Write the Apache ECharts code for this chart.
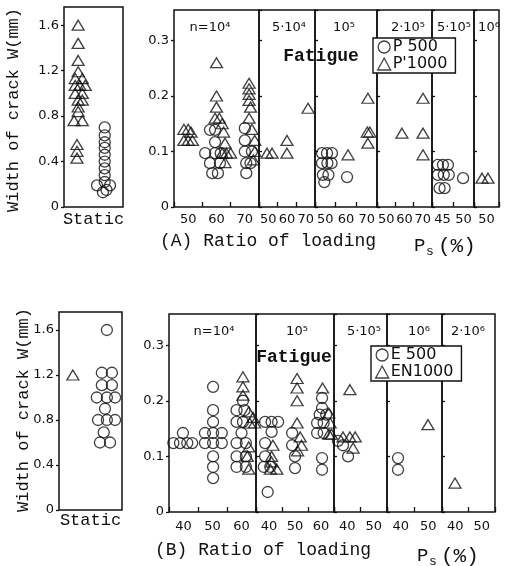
<!DOCTYPE html>
<html>
<head>
<meta charset="utf-8">
<script src="https://cdn.jsdelivr.net/npm/echarts@6/dist/echarts.min.js"></script>
<style>
  html, body { margin: 0; background: #fff; }
  #chart { width: 507px; height: 566px; }
</style>
</head>
<body>
<div id="chart"></div>
<script>
// ---- data ----
// static panels: x = position inside the "Static" column (0..1), y = crack width (mm)
const staticCats = ['Static'];
const aStaticP1000 = [[0.24,1.6],[0.24,1.44],[0.24,1.29],[0.24,1.19],[0.19,1.13],[0.31,1.13],
  [0.19,1.07],[0.27,1.07],[0.36,1.07],[0.19,1.0],[0.31,1.0],[0.24,0.94],[0.31,0.94],[0.24,0.88],
  [0.24,0.84],[0.17,0.76],[0.31,0.76],[0.22,0.55],[0.22,0.49],[0.22,0.43]];
const aStaticP500 = [[0.69,0.70],[0.69,0.63],[0.69,0.57],[0.69,0.52],[0.69,0.46],[0.69,0.40],
  [0.69,0.34],[0.69,0.28],[0.69,0.22],[0.56,0.19],[0.78,0.19],[0.72,0.15],[0.66,0.13]];
const bStaticEN1000 = [[0.22,1.2]];
const bStaticE500 = [[0.76,1.6],[0.68,1.22],[0.84,1.22],[0.68,1.11],[0.84,1.11],[0.6,1.0],
  [0.76,1.0],[0.89,1.0],[0.73,0.9],[0.62,0.8],[0.76,0.8],[0.89,0.8],[0.71,0.69],[0.65,0.6],[0.81,0.6]];

// fatigue panels: x = ratio of loading Ps (%), y = crack width (mm)
const aCats = ['50','60','70'];
const aCats5 = ['45','50'];
const aCats6 = ['50'];
const bCats = ['40','50','60'];
const bCats2 = ['40','50'];

const aN1e4P1000 = [[48.5,0.14],[50,0.14],[51,0.135],[48.5,0.12],[50,0.12],[51.5,0.12],
  [60,0.26],[60,0.2],[60,0.18],[59.5,0.16],[61,0.16],[62,0.15],[62.5,0.135],[63,0.115],
  [62,0.097],[63.5,0.097],[65,0.097],[63,0.08],
  [71.5,0.223],[71.5,0.213],[71.5,0.203],[71.5,0.192],[72,0.18],[71.5,0.16],[72.5,0.14],
  [73.5,0.12],[73.5,0.1],[73,0.085]];
const aN1e4P500 = [[57.7,0.139],[59.5,0.139],[59.5,0.117],[56,0.097],[59.5,0.097],[61.5,0.097],
  [57.7,0.079],[61.2,0.079],[58.5,0.061],[60.5,0.061],
  [70,0.142],[70,0.12],[70,0.1],[72.5,0.1],[70.5,0.079],[72,0.079],[70.5,0.061]];
const aN5e4P1000 = [[49.3,0.097],[52,0.097],[60,0.12],[60,0.097],[71.3,0.178]];
const aN1e5P500 = [[48.4,0.097],[50.8,0.097],[53.2,0.097],[48.4,0.079],[51,0.079],[53,0.079],
  [48.8,0.058],[51.5,0.058],[49.5,0.045],[60.5,0.054]];
const aN1e5P1000 = [[61,0.094],[70.6,0.196],[70.3,0.135],[71.5,0.135],[70.6,0.115]];
const aN2e5P1000 = [[58.6,0.133],[70.1,0.196],[70.1,0.133],[70.1,0.094]];
const aN5e5P500 = [[43.9,0.076],[45.1,0.076],[46.3,0.076],[43.9,0.058],[45.3,0.058],[46.5,0.058],
  [44.3,0.034],[45.5,0.034],[49.9,0.052]];
const aN1e6P1000 = [[48.2,0.052],[50.6,0.052]];

const bN1e4E500 = [[39.8,0.142],[36.5,0.124],[38.8,0.124],[41.3,0.124],[43,0.124],
  [50.2,0.225],[50.2,0.183],[50.2,0.162],[47.4,0.142],[50.2,0.142],[53.2,0.142],[47.4,0.124],
  [50.2,0.124],[53.2,0.124],[50.2,0.1],[50.2,0.081],[50.2,0.061],
  [60.5,0.2],[58.3,0.183],[61,0.183],[58.3,0.162],[60.5,0.162],[60,0.142],[58.3,0.124],
  [61.5,0.124],[58.3,0.1],[61.5,0.1],[58.3,0.081],[61.5,0.081]];
const bN1e4EN1000 = [[60.5,0.243],[60.5,0.225],[60.5,0.21],[62.5,0.18],[64,0.17],[62.8,0.16],
  [64.5,0.16],[62.5,0.117],[62,0.1],[62.5,0.077]];
const bN1e5E500 = [[38.5,0.162],[41,0.162],[43.5,0.162],[41,0.144],[38.5,0.124],[38.5,0.1],
  [38,0.081],[40.5,0.081],[39.5,0.036],[48.9,0.142],[48.9,0.12],[50,0.1],[50,0.079],
  [60.4,0.205],[60.4,0.187],[59.5,0.175],[62,0.175],[58.5,0.16],[61,0.16],[58.5,0.142],
  [61,0.142],[60.4,0.097],[60.4,0.076]];
const bN1e5EN1000 = [[41.5,0.12],[41,0.1],[41,0.09],[43,0.077],[40.5,0.077],
  [50.8,0.24],[50.8,0.223],[50.8,0.2],[50.8,0.16],[52,0.135],[52.5,0.12],[51,0.11],
  [60.6,0.223],[63,0.178],[63.5,0.16],[63,0.14],[64,0.14]];
const bN5e5E500 = [[36.5,0.128],[38.4,0.12],[40.3,0.1]];
const bN5e5EN1000 = [[41,0.22],[38.4,0.135],[41,0.135],[43,0.135],[42.2,0.115]];
const bN1e6E500 = [[39,0.097],[39,0.076]];
const bN1e6EN1000 = [[49.9,0.157]];
const bN2e6EN1000 = [[39.9,0.052]];

// ---- layout ----
const ink = '#111';
const mono = '"Liberation Mono", "DejaVu Sans Mono", monospace';
const sans = '"DejaVu Sans", sans-serif';

const panels = [
  // (A)
  {box: [64, 7, 59, 200], cats: staticCats, xr: [0, 1], ymax: 1.76, step: 0.4, yLabels: true, isStatic: true, margin: 4,
   pts: [["P'1000", aStaticP1000], ['P 500', aStaticP500]]},
  {box: [174, 10, 85, 197], cats: aCats, xr: [45, 75], ymax: 0.355, step: 0.1, yLabels: true, margin: 6,
   pts: [['P 500', aN1e4P500], ["P'1000", aN1e4P1000]]},
  {box: [259, 10, 56, 197], cats: aCats, xr: [45, 75], ymax: 0.355, step: 0.1, margin: 6,
   pts: [["P'1000", aN5e4P1000]]},
  {box: [315, 10, 62, 197], cats: aCats, xr: [45, 75], ymax: 0.355, step: 0.1, margin: 6,
   pts: [['P 500', aN1e5P500], ["P'1000", aN1e5P1000]]},
  {box: [377, 10, 55, 197], cats: aCats, xr: [45, 75], ymax: 0.355, step: 0.1, margin: 6,
   pts: [["P'1000", aN2e5P1000]]},
  {box: [432, 10, 42, 197], cats: aCats5, xr: [42.5, 52.5], ymax: 0.355, step: 0.1, margin: 6,
   pts: [['P 500', aN5e5P500]]},
  {box: [474, 10, 25, 197], cats: aCats6, xr: [45, 55], ymax: 0.355, step: 0.1, margin: 6,
   pts: [["P'1000", aN1e6P1000]]},
  // (B)
  {box: [59, 312, 63, 198], cats: staticCats, xr: [0, 1], ymax: 1.76, step: 0.4, yLabels: true, isStatic: true, margin: 2,
   pts: [['EN1000', bStaticEN1000], ['E 500', bStaticE500]]},
  {box: [169, 314, 87, 198], cats: bCats, xr: [35, 65], ymax: 0.356, step: 0.1, yLabels: true, margin: 8,
   pts: [['E 500', bN1e4E500], ['EN1000', bN1e4EN1000]]},
  {box: [256, 314, 78, 198], cats: bCats, xr: [35, 65], ymax: 0.356, step: 0.1, margin: 8,
   pts: [['E 500', bN1e5E500], ['EN1000', bN1e5EN1000]]},
  {box: [334, 314, 53, 198], cats: bCats2, xr: [35, 55], ymax: 0.356, step: 0.1, margin: 8,
   pts: [['E 500', bN5e5E500], ['EN1000', bN5e5EN1000]]},
  {box: [387, 314, 55, 198], cats: bCats2, xr: [35, 55], ymax: 0.356, step: 0.1, margin: 8,
   pts: [['E 500', bN1e6E500], ['EN1000', bN1e6EN1000]]},
  {box: [442, 314, 53, 198], cats: bCats2, xr: [35, 55], ymax: 0.356, step: 0.1, margin: 8,
   pts: [['EN1000', bN2e6EN1000]]}
];

const grids = [], xAxes = [], yAxes = [], series = [];
panels.forEach((p, gi) => {
  grids.push({left: p.box[0], top: p.box[1], width: p.box[2], height: p.box[3],
    show: true, borderColor: ink, borderWidth: 1.5, backgroundColor: 'transparent'});
  // visible category axis: labels at the centres, ticks between ratios
  xAxes.push({type: 'category', gridIndex: gi, position: 'bottom', data: p.cats, boundaryGap: true,
    axisLine: {show: false},
    axisTick: {show: !p.isStatic, inside: true, length: 5, lineStyle: {color: ink, width: 1.3}},
    axisLabel: {interval: 0, margin: p.margin, color: ink,
      fontFamily: p.isStatic ? mono : sans, fontSize: p.isStatic ? 17 : 13}});
  // hidden value axis carrying the points
  xAxes.push({type: 'value', gridIndex: gi, position: 'bottom', min: p.xr[0], max: p.xr[1], show: false});
  const step = p.step;
  yAxes.push({type: 'value', gridIndex: gi, min: 0, max: p.ymax, interval: step,
    splitLine: {show: false}, axisLine: {show: false},
    axisTick: {show: true, inside: !p.yLabels, length: 3, lineStyle: {color: ink, width: 1.3}},
    axisLabel: {show: !!p.yLabels, margin: 5, color: ink, fontFamily: sans, fontSize: 13, showMaxLabel: false,
      formatter: v => {
        const k = v / step;
        if (Math.abs(k - Math.round(k)) > 1e-6) return '';
        return v === 0 ? '0' : v.toFixed(1);
      }}});
  p.pts.forEach(([name, data]) => {
    const isCircle = name.indexOf('500') >= 0;
    series.push({type: 'scatter', name: name, data: data,
      xAxisIndex: gi * 2 + 1, yAxisIndex: gi, silent: true, clip: false,
      symbol: isCircle ? 'circle' : 'triangle',
      symbolSize: isCircle ? 11 : [12, 10],
      itemStyle: {color: 'rgba(0,0,0,0)', borderColor: ink, borderWidth: 1.3}});
  });
});

function legendAt(left, top, names) {
  return {left: left, top: top, orient: 'vertical', selectedMode: false,
    data: names.map(n => ({name: n, icon: n.indexOf('500') >= 0 ? 'circle' : 'triangle'})),
    backgroundColor: '#fff', borderColor: ink, borderWidth: 1.4, borderRadius: 0,
    padding: [1, 8, 1, 4], itemGap: 1, itemWidth: 13, itemHeight: 12,
    itemStyle: {color: 'rgba(0,0,0,0)', borderColor: ink, borderWidth: 1.3},
    textStyle: {fontFamily: sans, fontSize: 16, color: ink, padding: [0, 0, 0, -3]}};
}

function txt(x, y, text, font, align) {
  return {type: 'text', x: x, y: y, silent: true,
    style: {text: text, font: font, fill: ink, align: align || 'center', verticalAlign: 'middle'}};
}
function vtxt(x, y, text, font) {
  const t = txt(x, y, text, font);
  t.rotation = Math.PI / 2;
  return t;
}

const hdr = '13px "DejaVu Sans", sans-serif';
const texts = [
  vtxt(13, 110, 'Width of crack W(mm)', '17px ' + mono),
  vtxt(23, 410, 'Width of crack W(mm)', '17px ' + mono),
  txt(210, 28, 'n=10⁴', hdr), txt(289, 28, '5·10⁴', hdr), txt(344, 28, '10⁵', hdr),
  txt(408, 28, '2·10⁵', hdr), txt(454, 28, '5·10⁵', hdr), txt(489, 28, '10⁶', hdr),
  txt(214, 332, 'n=10⁴', hdr), txt(297, 332, '10⁵', hdr), txt(364, 332, '5·10⁵', hdr),
  txt(419, 332, '10⁶', hdr), txt(468, 332, '2·10⁶', hdr),
  txt(321, 56, 'Fatigue', 'bold 18px ' + mono),
  txt(294, 357, 'Fatigue', 'bold 18px ' + mono),
  txt(160, 241, '(A) Ratio of loading', '18px ' + mono, 'left'),
  txt(414, 246, 'P', '19px ' + mono, 'left'),
  txt(426, 252, 's', '13px ' + mono, 'left'),
  txt(438, 246, '(%)', '21px ' + mono, 'left'),
  txt(155, 550, '(B) Ratio of loading', '18px ' + mono, 'left'),
  txt(417, 556, 'P', '19px ' + mono, 'left'),
  txt(429, 562, 's', '13px ' + mono, 'left'),
  txt(441, 556, '(%)', '21px ' + mono, 'left')
];

const chart = echarts.init(document.getElementById('chart'));
chart.setOption({
  animation: false,
  backgroundColor: '#fff',
  grid: grids,
  xAxis: xAxes,
  yAxis: yAxes,
  legend: [legendAt(373, 38, ['P 500', "P'1000"]), legendAt(371, 346, ['E 500', 'EN1000'])],
  graphic: texts,
  series: series
});
</script>
</body>
</html>
